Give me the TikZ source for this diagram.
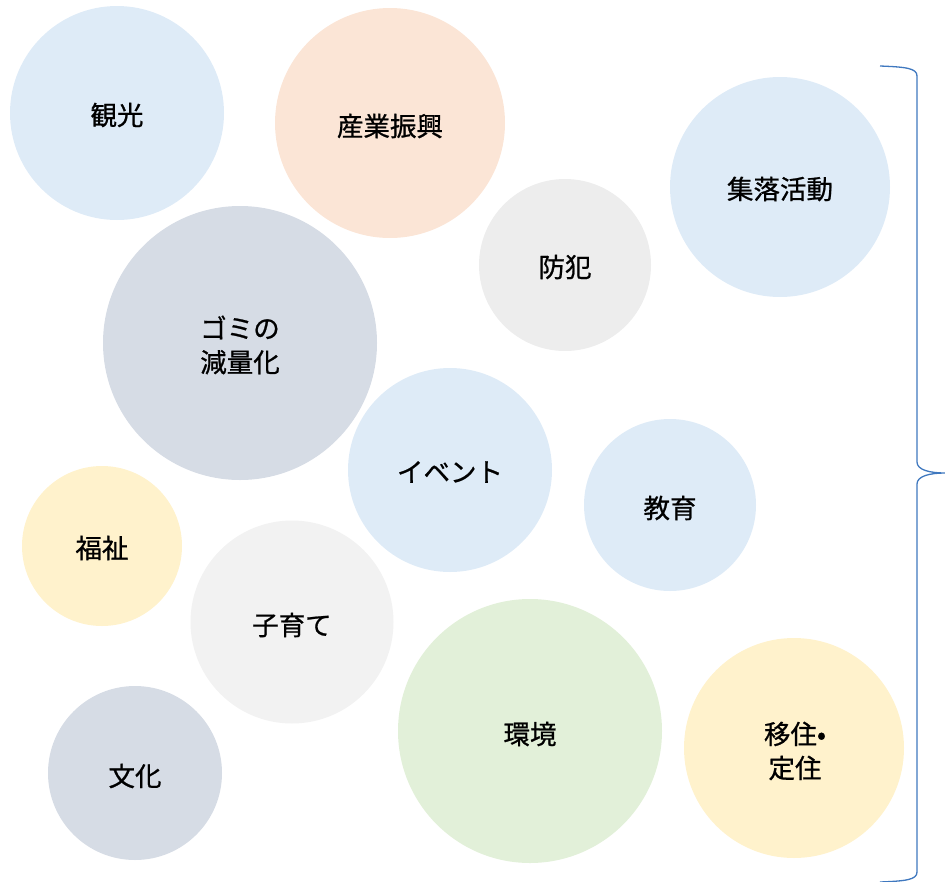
\documentclass[tikz,border=0pt]{standalone}
\usepackage{fontspec}
\newfontfamily\jp[FakeBold=0.8]{Noto Sans CJK JP}
\definecolor{cblue}{HTML}{DEEBF7}
\definecolor{cpeach}{HTML}{FBE5D6}
\definecolor{cgray}{HTML}{EDEDED}
\definecolor{cslate}{HTML}{D6DCE5}
\definecolor{cyellow}{HTML}{FFF2CC}
\definecolor{cgreen}{HTML}{E2F0D9}
\definecolor{clgray}{HTML}{F2F2F2}
\definecolor{cbrace}{HTML}{3F78BF}
\tikzset{
  bubble/.style={circle, inner sep=0pt, minimum size=#1, draw=none},
  lbl/.style={font=\jp\fontsize{26.5}{34}\selectfont, align=center, text=black},
}
\begin{document}
\begin{tikzpicture}[x=1pt,y=-1pt]
\useasboundingbox (0,0) rectangle (945,881);
\node[bubble=214, fill=cblue] (c1) at (117,113) {};
\node[bubble=230, fill=cpeach] (c2) at (390,123) {};
\node[bubble=220, fill=cblue] (c3) at (780,187) {};
\node[bubble=172, fill=cgray] (c4) at (565,265) {};
\node[bubble=274, fill=cslate] (c5) at (240,343) {};
\node[bubble=204, fill=cblue] (c6) at (450,470) {};
\node[bubble=172, fill=cblue] (c7) at (670,505) {};
\node[bubble=160, fill=cyellow] (c8) at (102,546) {};
\node[bubble=203, fill=clgray] (c9) at (292,622) {};
\node[bubble=264, fill=cgreen] (c10) at (530,731) {};
\node[bubble=220, fill=cyellow] (c11) at (794,748) {};
\node[bubble=174, fill=cslate] (c12) at (135,773) {};
\node[lbl] (t1) at (117,115) {観光};
\node[lbl] (t2) at (390,126) {産業振興};
\node[lbl] (t3) at (780,189) {集落活動};
\node[lbl] (t4) at (565,267) {防犯};
\node[lbl] (t5) at (240,345) {ゴミの\\減量化};
\node[lbl] (t6) at (450,472) {イベント};
\node[lbl] (t7) at (670,508) {教育};
\node[lbl] (t8) at (102,548) {福祉};
\node[lbl] (t9) at (292,625) {子育て};
\node[lbl] (t10) at (530,734) {環境};
\node[lbl] (t11) at (795,751) {移住•\\定住};
\node[lbl] (t12) at (135,776) {文化};
\draw[cbrace, line width=1.3pt]
  (880,66) .. controls (905,67) and (917,68) .. (917,76)
  -- (917,462) .. controls (917,470) and (930,473) .. (945,473)
  .. controls (930,473) and (917,476) .. (917,484)
  -- (917,872) .. controls (917,880) and (905,881) .. (880,882);
\end{tikzpicture}
\end{document}
